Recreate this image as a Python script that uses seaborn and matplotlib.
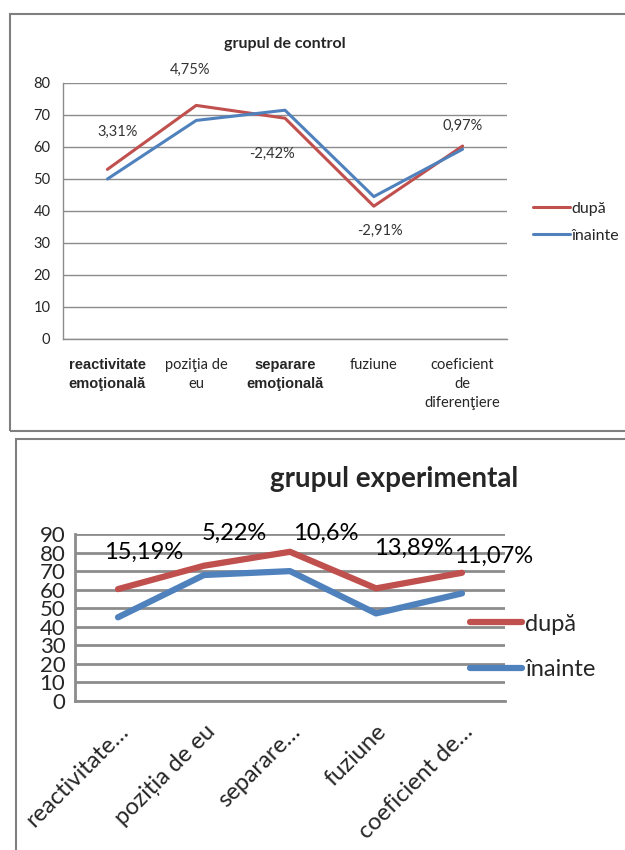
import pandas as pd
import matplotlib.pyplot as plt
import seaborn as sns
from matplotlib.patches import Rectangle

# data
categories_ctrl = ["reactivitate\nemoţională", "poziţia de\neu", "separare\nemoţională",
                   "fuziune", "coeficient\nde\ndiferenţiere"]
categories_exp = ["reactivitate…", "poziția de eu", "separare…", "fuziune", "coeficient de…"]
series_names = ["după", "înainte"]

ctrl_dupa = [53.0, 73.0, 69.0, 41.5, 60.3]
ctrl_inainte = [50.0, 68.3, 71.5, 44.5, 59.3]
ctrl_labels = ["3,31%", "4,75%", "-2,42%", "-2,91%", "0,97%"]

exp_dupa = [60.3, 72.9, 80.4, 60.7, 69.1]
exp_inainte = [45.1, 67.9, 70.0, 47.2, 58.0]
exp_labels = ["15,19%", "5,22%", "10,6%", "13,89%", "11,07%"]

RED = "#C0504D"
BLUE = "#4F81BD"
GRID = "#8C8C8C"


def long_df(dupa, inainte):
    rows = []
    for i, (a, b) in enumerate(zip(dupa, inainte)):
        rows.append({"idx": i, "value": a, "serie": series_names[0]})
        rows.append({"idx": i, "value": b, "serie": series_names[1]})
    return pd.DataFrame(rows)


def style_axes(ax, ymax, lw_grid, fs_tick):
    ax.set_xlim(-0.5, 4.5)
    ax.set_ylim(0, ymax)
    ax.set_yticks(range(0, ymax + 1, 10))
    ax.yaxis.grid(True, color=GRID, linewidth=lw_grid)
    ax.set_axisbelow(True)
    for s in ["top", "right"]:
        ax.spines[s].set_visible(False)
    for s in ["left", "bottom"]:
        ax.spines[s].set_color(GRID)
        ax.spines[s].set_linewidth(lw_grid)
    ax.set_xticks([i + 0.5 for i in range(-1, 5)], minor=True)
    ax.tick_params(axis="x", which="minor", length=6, color=GRID, width=lw_grid, direction="out")
    ax.tick_params(axis="x", which="major", length=0)
    ax.tick_params(axis="y", length=5, color=GRID, width=lw_grid, labelsize=fs_tick, pad=4)
    ax.set_xlabel("")
    ax.set_ylabel("")


sns.set_theme(style="white")
plt.rcParams["font.family"] = ["Lato", "DejaVu Sans"]

fig = plt.figure(figsize=(6.25, 8.5), dpi=100)

# panel borders
fig.patches.append(Rectangle((10 / 625, 1 - 431 / 850), 1.1, 417 / 850, transform=fig.transFigure,
                             fill=False, edgecolor="#7f7f7f", linewidth=1.5))
fig.patches.append(Rectangle((16 / 625, -0.1), 1.1, 0.1 + 1 - 439 / 850, transform=fig.transFigure,
                             fill=False, edgecolor="#7f7f7f", linewidth=1.5))

# ---------- control group ----------
ax1 = fig.add_axes([63 / 625, 1 - 339 / 850, 444 / 625, 256 / 850])
sns.lineplot(data=long_df(ctrl_dupa, ctrl_inainte), x="idx", y="value", hue="serie",
             hue_order=series_names, palette=[RED, BLUE], linewidth=2.2, ax=ax1)
style_axes(ax1, 80, 1.0, 10.5)
ax1.set_xticks(range(5))
ax1.set_xticklabels(categories_ctrl, fontsize=10.5, linespacing=1.45)
ax1.tick_params(axis="x", which="major", pad=14)
for i in (0, 2):
    ax1.get_xticklabels()[i].set_family(["Liberation Sans", "DejaVu Sans"])
    ax1.get_xticklabels()[i].set_fontweight("bold")
    ax1.get_xticklabels()[i].set_fontsize(10.5)
ax1.set_title("grupul de control", fontsize=11.5, fontweight="bold", pad=25)
ctrl_pos = [(0.12, 64.7), (0.93, 84.0), (1.85, 57.8), (3.07, 33.8), (4.0, 66.6)]
for txt, (x, y) in zip(ctrl_labels, ctrl_pos):
    ax1.text(x, y, txt, ha="center", va="center", fontsize=10.5, color="#333333", clip_on=False)
ax1.legend(loc="center left", bbox_to_anchor=(533 / 625, 1 - 222 / 850), bbox_transform=fig.transFigure,
           frameon=False, fontsize=11.5, handlelength=2.3, handletextpad=0.1, labelspacing=0.8,
           borderpad=0, borderaxespad=0)

# ---------- experimental group ----------
ax2 = fig.add_axes([75 / 625, 1 - 701 / 850, 430 / 625, 167 / 850])
sns.lineplot(data=long_df(exp_dupa, exp_inainte), x="idx", y="value", hue="serie",
             hue_order=series_names, palette=[RED, BLUE], linewidth=4.5, ax=ax2)
for ln in ax2.lines:
    ln.set_solid_capstyle("round")
style_axes(ax2, 90, 2.0, 16)
ax2.tick_params(axis="y", pad=2)
ax2.set_xticks(range(5))
ax2.set_xticklabels(categories_exp, fontsize=17, rotation=45, ha="right", rotation_mode="anchor")
ax2.tick_params(axis="x", which="major", pad=14)
ax2.set_title("grupul experimental", fontsize=20, fontweight="bold", x=0.742, pad=34)
exp_pos = [(0.30, 80.3), (1.35, 90.5), (2.42, 90.5), (3.44, 82.4), (4.37, 78.1)]
for txt, (x, y) in zip(exp_labels, exp_pos):
    ax2.text(x, y, txt, ha="center", va="center", fontsize=17, color="black", clip_on=False)
leg = ax2.legend(loc="center left", bbox_to_anchor=(470 / 625, 1 - 647 / 850), bbox_transform=fig.transFigure,
                 frameon=False, fontsize=17, handlelength=2.2, handletextpad=0.15, labelspacing=1.05,
                 borderpad=0, borderaxespad=0)
for h in leg.get_lines():
    h.set_linewidth(4.5)
    h.set_solid_capstyle("round")

fig.savefig("out.png", dpi=100)
plt.close(fig)
